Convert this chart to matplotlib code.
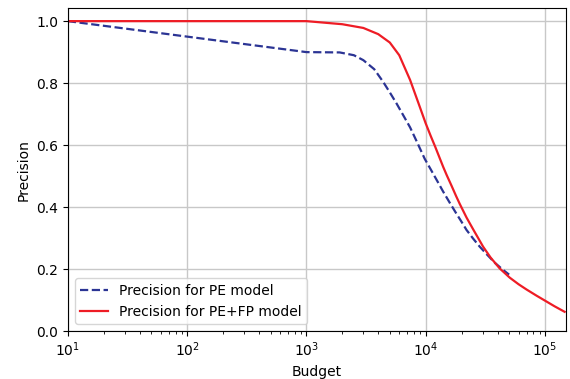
import matplotlib
matplotlib.use("Agg")
import matplotlib.pyplot as plt

budget_pe = [10, 100, 1000, 1900, 2500, 3000, 3700, 4400, 5000, 5700, 6400, 7400, 8400, 9800, 11000, 12500, 14000, 15900, 18000, 20000, 22000, 25000, 28400, 32400, 38000, 44600, 50000]
prec_pe = [1.0, 0.95, 0.90, 0.899, 0.89, 0.874, 0.845, 0.804, 0.77, 0.734, 0.70, 0.657, 0.612, 0.556, 0.522, 0.484, 0.45, 0.414, 0.38, 0.352, 0.326, 0.298, 0.272, 0.248, 0.22, 0.197, 0.182]

budget_fp = [10, 1000, 2000, 3000, 4000, 5000, 6000, 7400, 8700, 10000, 11000, 12000, 13100, 14000, 15000, 16500, 18000, 19300, 22000, 25000, 30300, 35000, 41700, 50700, 60000, 70000, 85000, 100000, 120000, 146000]
prec_fp = [1.0, 1.0, 0.99, 0.978, 0.958, 0.931, 0.89, 0.81, 0.735, 0.67, 0.63, 0.595, 0.558, 0.53, 0.503, 0.468, 0.435, 0.41, 0.366, 0.328, 0.272, 0.237, 0.202, 0.172, 0.151, 0.134, 0.114, 0.098, 0.08, 0.062]

fig = plt.figure(figsize=(5.7, 3.79), dpi=100)
ax = fig.add_axes([0.119, 0.1266, 0.874, 0.852])
ax.plot(budget_pe, prec_pe, linestyle='--', color='#2b3494', linewidth=1.6, label='Precision for PE model')
ax.plot(budget_fp, prec_fp, linestyle='-', color='#ee1c25', linewidth=1.6, label='Precision for PE+FP model')
ax.set_xscale('log')
ax.set_xlim(10, 150000)
ax.set_ylim(0, 1.042)
ax.set_yticks([0.0, 0.2, 0.4, 0.6, 0.8, 1.0])
ax.grid(True, which='major', color='#c8c8c8', linewidth=1.0)
ax.set_axisbelow(True)
ax.set_xlabel('Budget', fontsize=10)
ax.set_ylabel('Precision', fontsize=10)
ax.tick_params(labelsize=10)
ax.legend(loc='lower left', fontsize=10, framealpha=0.8)
fig.savefig('out.png', dpi=100)
